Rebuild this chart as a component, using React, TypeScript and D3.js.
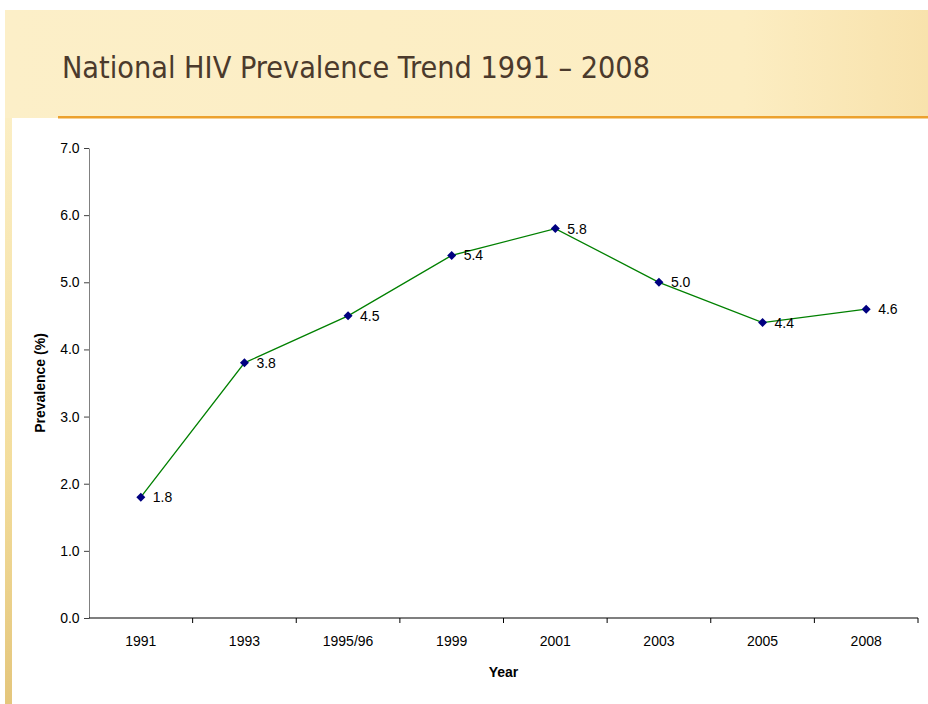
import React, { useEffect, useRef } from 'react';
import * as d3 from 'd3';

const years = ['1991', '1993', '1995/96', '1999', '2001', '2003', '2005', '2008'];
const prevalence = [1.8, 3.8, 4.5, 5.4, 5.8, 5.0, 4.4, 4.6];
const yTicks = [0, 1, 2, 3, 4, 5, 6, 7];

const W = 928;
const H = 704;
const FONT = 'Arial, "Liberation Sans", sans-serif';

const App = () => {
    const svgRef = useRef<SVGSVGElement>(null);

    useEffect(() => {
        const svg = d3.select(svgRef.current);
        svg.selectAll('.chart').remove();

        const left = 89, right = 918, top = 148, bottom = 618;

        const x = d3.scaleBand<string>().domain(years).range([left, right]).padding(0);
        const y = d3.scaleLinear().domain([0, 7]).range([bottom, top]);
        const cx = (d: string) => (x(d) as number) + x.bandwidth() / 2;

        const g = svg.append('g').attr('class', 'chart').attr('font-family', FONT);

        // y axis
        const ya = g.append('g')
            .attr('transform', `translate(${left},0)`)
            .call(d3.axisLeft(y).tickValues(yTicks).tickFormat(d3.format('.1f')).tickSize(5).tickSizeOuter(0));
        ya.attr('font-family', FONT).attr('font-size', 14);
        ya.select('.domain').attr('stroke', '#808080');
        ya.selectAll('.tick line').attr('stroke', '#404040');
        ya.selectAll('.tick text').attr('fill', '#000').attr('dx', '-0.1em');

        // x axis, ticks between categories
        const xa = g.append('g').attr('transform', `translate(0,${bottom})`);
        xa.append('line')
            .attr('x1', left).attr('x2', right)
            .attr('stroke', '#000').attr('stroke-width', 1.2);
        xa.selectAll('.xt')
            .data(years)
            .enter().append('line')
            .attr('x1', (d, i) => left + (i + 1) * x.bandwidth())
            .attr('x2', (d, i) => left + (i + 1) * x.bandwidth())
            .attr('y1', 0).attr('y2', 5)
            .attr('stroke', '#000');
        xa.selectAll('.xl')
            .data(years)
            .enter().append('text')
            .attr('x', d => cx(d))
            .attr('y', 28)
            .attr('text-anchor', 'middle')
            .attr('font-size', 14)
            .text(d => d);

        // axis titles
        g.append('text')
            .attr('x', (left + right) / 2)
            .attr('y', 677)
            .attr('text-anchor', 'middle')
            .attr('font-size', 14)
            .attr('font-weight', 'bold')
            .text('Year');
        g.append('text')
            .attr('transform', `translate(45,${(top + bottom) / 2}) rotate(-90)`)
            .attr('text-anchor', 'middle')
            .attr('font-size', 14)
            .attr('font-weight', 'bold')
            .text('Prevalence (%)');

        // line
        const line = d3.line<number>()
            .x((d, i) => cx(years[i]))
            .y(d => y(d));
        g.append('path')
            .datum(prevalence)
            .attr('d', line)
            .attr('fill', 'none')
            .attr('stroke', '#008000')
            .attr('stroke-width', 1.3);

        // diamond markers
        g.selectAll('.pt')
            .data(prevalence)
            .enter().append('path')
            .attr('d', d3.symbol().type(d3.symbolDiamond2).size(52))
            .attr('transform', (d, i) => `translate(${cx(years[i])},${y(d)})`)
            .attr('fill', '#000080');

        // data labels
        g.selectAll('.lbl')
            .data(prevalence)
            .enter().append('text')
            .attr('x', (d, i) => cx(years[i]) + 12)
            .attr('y', d => y(d) + 5)
            .attr('font-size', 14)
            .text(d => d.toFixed(1));
    }, []);

    return (
        <svg ref={svgRef} width={W} height={H}
            style={{ position: 'absolute', left: 0, top: 0, background: '#fff' }}>
            <defs>
                <linearGradient id="band" x1="0" y1="0" x2="1" y2="0">
                    <stop offset="0" stopColor="#fcefc8" />
                    <stop offset="0.8" stopColor="#fcedc2" />
                    <stop offset="1" stopColor="#f8e2ac" />
                </linearGradient>
                <linearGradient id="strip" x1="0" y1="0" x2="0" y2="1">
                    <stop offset="0" stopColor="#fbeec4" />
                    <stop offset="0.6" stopColor="#f3dd9c" />
                    <stop offset="1" stopColor="#e4c67c" />
                </linearGradient>
            </defs>
            <rect x={5} y={10} width={W - 5} height={108} fill="url(#band)" />
            <rect x={5} y={118} width={7} height={H - 118} fill="url(#strip)" />
            <rect x={58} y={116} width={W - 58} height={2.5} fill="#eca12e" />
            <text x={62} y={78} fontSize={31} fill="#4b3a2c"
                fontFamily='"Liberation Sans Narrow", "DejaVu Sans Condensed", "Open Sans", sans-serif'
                textLength={588} lengthAdjust="spacingAndGlyphs">
                National HIV Prevalence Trend 1991 – 2008
            </text>
        </svg>
    );
};

export default App;
